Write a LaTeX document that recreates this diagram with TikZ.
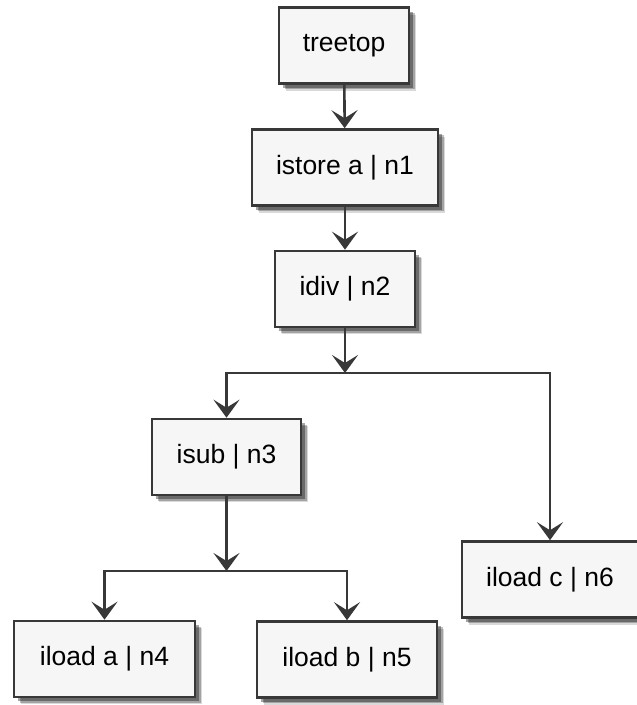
\documentclass[tikz,border=0pt]{standalone}
\usepackage{fontspec}
\setmainfont{Liberation Sans}
\usetikzlibrary{arrows.meta,shadows}
\definecolor{edgecol}{HTML}{383838}
\definecolor{boxfill}{HTML}{F6F6F6}
\tikzset{
  opbox/.style={draw=edgecol, line width=2.6pt, fill=boxfill, inner sep=0pt,
    minimum height=76pt, font=\fontsize{26.5}{30}\selectfont,
    drop shadow={shadow xshift=7pt, shadow yshift=-7pt, opacity=0.15, fill=black},
    drop shadow={shadow xshift=5.5pt, shadow yshift=-5.5pt, opacity=0.25, fill=black},
    drop shadow={shadow xshift=4pt, shadow yshift=-4pt, opacity=0.35, fill=black}},
  link/.style={draw=edgecol, line width=2.6pt,
    -{Stealth[length=18pt, width=26pt, inset=8pt]}}
}
\begin{document}
\begin{tikzpicture}[x=1pt, y=-1pt]
  \useasboundingbox (0,0) rectangle (637,705);
  % operation boxes
  \node[opbox, minimum width=130pt] (top) at (344,45.5) {treetop};
  \node[opbox, minimum width=186pt] (n1) at (345,167.5) {istore a | n1};
  \node[opbox, minimum width=140pt] (n2) at (345,289) {idiv | n2};
  \node[opbox, minimum width=149pt] (n3) at (226.5,457) {isub | n3};
  \node[opbox, minimum width=181pt] (n4) at (104.5,659) {iload a | n4};
  \node[opbox, minimum width=180pt] (n5) at (347,659.5) {iload b | n5};
  \node[opbox, minimum width=176pt] (n6) at (550,579.5) {iload c | n6};
  % branch points
  \coordinate (j1) at (345,373);
  \coordinate (j2) at (226.5,571);
  % connectors
  \draw[link] (top) -- (n1);
  \draw[link] (n1) -- (n2);
  \draw[link] (n2) -- (j1);
  \draw[link] (j1) -| (n3.north);
  \draw[link] (j1) -| (n6.north);
  \draw[link] (n3) -- (j2);
  \draw[link] (j2) -| (n4.north);
  \draw[link] (j2) -| (n5.north);
\end{tikzpicture}
\end{document}
